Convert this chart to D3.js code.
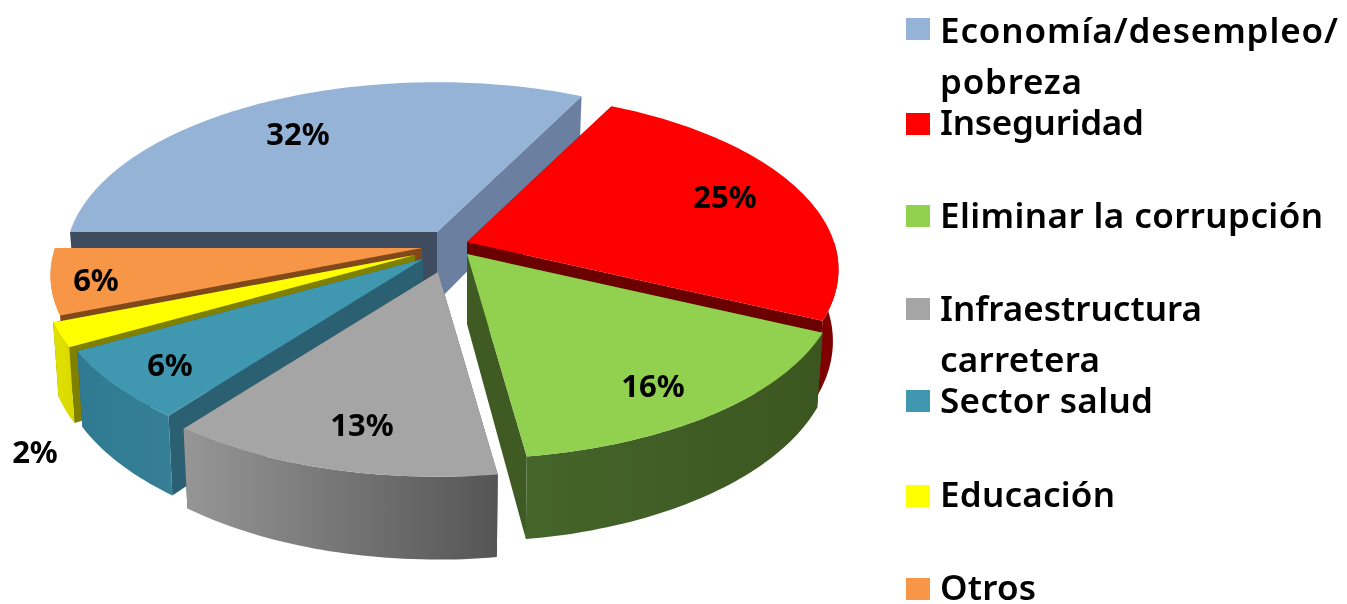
<!DOCTYPE html>
<html>
<head>
<meta charset="utf-8">
<script src="https://cdn.jsdelivr.net/npm/d3@7"></script>
<style>
  html, body { margin: 0; padding: 0; background: #fff; }
  svg { display: block; filter: blur(0.5px); }
  text { font-family: "Noto Sans", sans-serif; font-weight: 600; fill: #000; }
</style>
</head>
<body>
<div id="chart"></div>
<script>
// data. Labels show whole percents, the decimals are
// estimated from how wide each slice looks
const categories = ['Economía/desempleo/ pobreza', 'Inseguridad', 'Eliminar la corrupción',
    'Infraestructura carretera', 'Sector salud', 'Educación', 'Otros'];
const shares = [32.4, 24.6, 15.8, 12.6, 6.4, 2.2, 6];

// styles per slice
const topColors = ['#95b3d7', '#ff0000', '#92d050', '#a5a5a5', '#4097b0', '#ffff00', '#f79646'];
const startCutColors = ['#3f4c60', '#7f0000', '#3f5a22', '#555555', '#2a6072', '#7f7f00', '#80491c'];
const endCutColors = ['#6b80a0', '#6b0000', '#3f5a22', '#555555', '#2a6072', '#7f7f00', '#80491c'];
const wallLeft = ['#6b80a0', '#7f0000', '#44652a', '#969696', '#2f7a92', '#e2e200', '#d98a46'];
const wallRight = ['#6b80a0', '#7f0000', '#3c5620', '#555555', '#367f96', '#d8d800', '#c97a36'];

// exploded apex of every slice, in page pixels
const apexes = [[437, 232], [467, 242], [467, 254], [438, 272], [423, 259], [415, 255], [422, 248]];
const labelSpots = [[298, 134], [725, 197], [653, 386], [362, 425], [170, 365], [35, 452], [96, 280]];

// legend layout
const legendX = 906;
const legendTextX = 940;
const swatchTops = [18, 113, 205, 298, 390, 485, 578];
const legendLines = [
    ['Economía/desempleo/', 43, 398], ['pobreza', 94, 142],
    ['Inseguridad', 135, 204],
    ['Eliminar la corrupción', 228, 383],
    ['Infraestructura', 321, 262], ['carretera', 372, 160],
    ['Sector salud', 413, 213],
    ['Educación', 507, 175],
    ['Otros', 600, 96]
];

const width = 1347;
const height = 604;
const radius = 367;
const tilt = 173;
const depth = 70;
const perspective = 0.155;

const svg = d3.select('#chart').append('svg')
    .attr('width', width)
    .attr('height', height);

const defs = svg.append('defs');

// pie starts on the left, clockwise, same as the Excel original
const pie = d3.pie().sort(null)
    .startAngle(1.5 * Math.PI)
    .endAngle(3.5 * Math.PI);
const slices = pie(shares);

// turns an angle on the disc into page x/y, z 0 is the top face and 1 the bottom
function project(apex, angle, frac, z) {
    const u = Math.sin(angle) * frac;
    const v = -Math.cos(angle) * frac;
    const s = 1 / (1 - perspective * v);
    return [
        apex[0] + radius * u * s * (1 - 0.015 * z),
        apex[1] + tilt * v * s + depth * z * s
    ];
}

function arcPoints(apex, from, to, z) {
    const steps = Math.ceil((to - from) / 0.02);
    const angle = d3.scaleLinear().domain([0, steps]).range([from, to]);
    return d3.range(steps + 1).map(i => project(apex, angle(i), 1, z));
}

const line = d3.line();
const close = pts => line(pts) + 'Z';

function drawSlice(i) {
    const d = slices[i];
    const apex = apexes[i];
    const g = svg.append('g').attr('class', 'slice');
    const top = arcPoints(apex, d.startAngle, d.endAngle, 0);
    const bottom = arcPoints(apex, d.startAngle, d.endAngle, 1);
    const tip = project(apex, 0, 0, 0);
    const tipLow = project(apex, 0, 0, 1);

    g.append('path')
        .attr('d', close([tip, top[0], bottom[0], tipLow]))
        .attr('fill', startCutColors[i]);
    g.append('path')
        .attr('d', close([tip, top[top.length - 1], bottom[bottom.length - 1], tipLow]))
        .attr('fill', endCutColors[i]);

    // only the half of the rim that faces the viewer gets a wall,
    // the pie runs from 1.5 pi to 3.5 pi so that half is 2.5 pi to 3.5 pi
    const wallFrom = Math.max(d.startAngle, 2.5 * Math.PI);
    const wallTo = d.endAngle;
    if (wallTo > wallFrom) {
        const grad = defs.append('linearGradient').attr('id', 'wall' + i);
        grad.append('stop').attr('offset', '0%').attr('stop-color', wallLeft[i]);
        grad.append('stop').attr('offset', '100%').attr('stop-color', wallRight[i]);

        const rim = arcPoints(apex, wallFrom, wallTo, 0);
        const rimLow = arcPoints(apex, wallFrom, wallTo, 1).reverse();
        g.append('path')
            .attr('d', close(rim.concat(rimLow)))
            .attr('fill', `url(#wall${i})`);
    }

    g.append('path')
        .attr('d', close([tip].concat(top)))
        .attr('fill', topColors[i]);
}

// painter's order, back slices first
[0, 1, 6, 5, 4, 3, 2].forEach(drawSlice);

svg.append('g').selectAll('text')
    .data(shares)
    .join('text')
    .attr('x', (d, i) => labelSpots[i][0])
    .attr('y', (d, i) => labelSpots[i][1] + 11)
    .attr('text-anchor', 'middle')
    .attr('font-size', 31)
    .style('font-weight', 700)
    .text(d => d3.format('.0f')(d) + '%');

const legend = svg.append('g').attr('class', 'legend');
legend.selectAll('rect')
    .data(categories)
    .join('rect')
    .attr('x', legendX)
    .attr('y', (d, i) => swatchTops[i])
    .attr('width', 24)
    .attr('height', 22)
    .attr('fill', (d, i) => topColors[i]);

legend.selectAll('text')
    .data(legendLines)
    .join('text')
    .attr('x', legendTextX)
    .attr('y', d => d[1])
    .attr('font-size', 35)
    .attr('textLength', d => d[2])
    .attr('lengthAdjust', 'spacing')
    .text(d => d[0]);
</script>
</body>
</html>
